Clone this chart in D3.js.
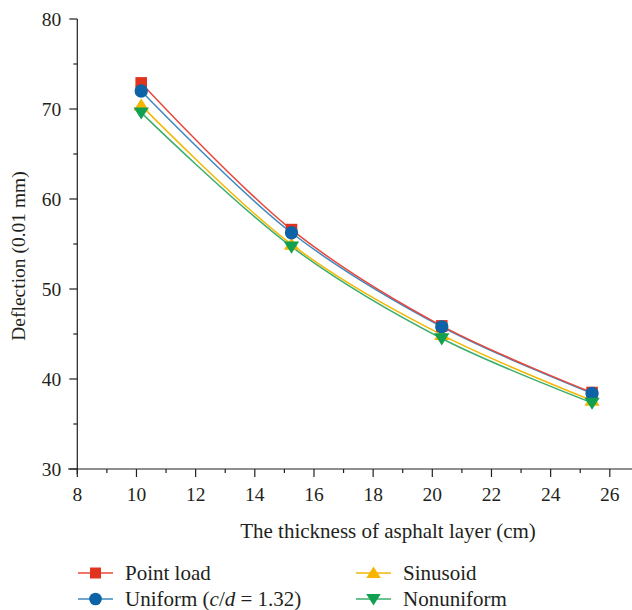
<!DOCTYPE html>
<html>
<head>
<meta charset="utf-8">
<script src="https://cdn.jsdelivr.net/npm/d3@7"></script>
<style>
  html, body { margin: 0; padding: 0; background: #fff; }
  svg { display: block; font-family: "Liberation Serif", "DejaVu Serif", serif; }
</style>
</head>
<body>
<svg id="chart" width="632" height="610"></svg>
<script>
const thickness = [10.16, 15.24, 20.32, 25.4];
const pointLoad  = [72.9, 56.6, 45.9, 38.5];
const uniform    = [72.0, 56.25, 45.8, 38.4];
const sinusoid   = [70.4, 54.95, 44.9, 37.6];
const nonuniform = [69.6, 54.7, 44.5, 37.35];
const xTicks = [8, 10, 12, 14, 16, 18, 20, 22, 24, 26];
const yTicks = [30, 40, 50, 60, 70, 80];

const seriesNames = ["Point load", "Uniform", "Sinusoid", "Nonuniform"];
const seriesValues = [pointLoad, uniform, sinusoid, nonuniform];
const lineColors = ["#e8473a", "#3c87bf", "#f2b705", "#3aae6a"];
const markColors = ["#e03420", "#0d63a5", "#f7b500", "#10a050"];
const markTypes = ["square", "circle", "triangleUp", "triangleDown"];

const svg = d3.select("#chart");
const x = d3.scaleLinear().domain([8, 26.75]).range([77.3, 632]);
const y = d3.scaleLinear().domain([30, 80]).range([469, 19]);

// Axes
const xAxis = svg.append("g").attr("transform", "translate(0,469)");
xAxis.append("line").attr("x1", 68).attr("x2", 632).attr("y1", 0).attr("y2", 0)
  .attr("stroke", "#231f20").attr("stroke-width", 1.2);
const xMinor = d3.range(9, 27, 2);
xAxis.selectAll(".xminor").data(xMinor).join("line")
  .attr("x1", d => x(d)).attr("x2", d => x(d)).attr("y1", 0).attr("y2", 4)
  .attr("stroke", "#231f20").attr("stroke-width", 1.2);
xAxis.selectAll(".xmajor").data(xTicks).join("line")
  .attr("x1", d => x(d)).attr("x2", d => x(d)).attr("y1", 0).attr("y2", 8)
  .attr("stroke", "#231f20").attr("stroke-width", 1.2);
xAxis.selectAll(".xlab").data(xTicks).join("text")
  .attr("x", d => x(d)).attr("y", 32).attr("text-anchor", "middle")
  .attr("font-size", 19.5).attr("fill", "#231f20").text(d => d);

const yAxis = svg.append("g").attr("transform", "translate(77.3,0)");
yAxis.append("line").attr("x1", 0).attr("x2", 0).attr("y1", 19).attr("y2", 474)
  .attr("stroke", "#231f20").attr("stroke-width", 1.2);
const yMinor = d3.range(35, 80, 10);
yAxis.selectAll(".yminor").data(yMinor).join("line")
  .attr("x1", -4).attr("x2", 0).attr("y1", d => y(d)).attr("y2", d => y(d))
  .attr("stroke", "#231f20").attr("stroke-width", 1.2);
yAxis.selectAll(".ymajor").data(yTicks).join("line")
  .attr("x1", -8).attr("x2", 0).attr("y1", d => y(d)).attr("y2", d => y(d))
  .attr("stroke", "#231f20").attr("stroke-width", 1.2);
yAxis.selectAll(".ylab").data(yTicks).join("text")
  .attr("x", -16).attr("y", d => y(d)).attr("dy", "0.35em").attr("text-anchor", "end")
  .attr("font-size", 19.5).attr("fill", "#231f20").text(d => d);

// Axis titles
svg.append("text").attr("x", 388).attr("y", 538).attr("text-anchor", "middle")
  .attr("font-size", 21).attr("fill", "#231f20").text("The thickness of asphalt layer (cm)");
svg.append("text").attr("transform", "translate(25,256) rotate(-90)").attr("text-anchor", "middle")
  .attr("font-size", 19.5).attr("fill", "#231f20").text("Deflection (0.01 mm)");

// Markers
function drawMarker(g, type, cx, cy, color, s) {
  if (type === "square") {
    g.append("rect").attr("x", cx - s).attr("y", cy - s).attr("width", 2 * s).attr("height", 2 * s).attr("fill", color);
  } else if (type === "circle") {
    g.append("circle").attr("cx", cx).attr("cy", cy).attr("r", s * 1.15).attr("fill", color);
  } else if (type === "triangleUp") {
    const h = s * 1.2;
    g.append("path").attr("d", `M${cx},${cy - h}L${cx + h * 1.1},${cy + h * 0.75}L${cx - h * 1.1},${cy + h * 0.75}Z`).attr("fill", color);
  } else {
    const h = s * 1.2;
    g.append("path").attr("d", `M${cx},${cy + h}L${cx + h * 1.1},${cy - h * 0.75}L${cx - h * 1.1},${cy - h * 0.75}Z`).attr("fill", color);
  }
}

const line = d3.line().x((d, i) => x(thickness[i])).y(d => y(d)).curve(d3.curveCatmullRom.alpha(0.5));
const plot = svg.append("g");
const order = [3, 2, 1, 0];
order.forEach(k => {
  plot.append("path").datum(seriesValues[k]).attr("d", line)
    .attr("fill", "none").attr("stroke", lineColors[k]).attr("stroke-width", 1.5);
});
[0, 2, 1, 3].forEach(k => {
  seriesValues[k].forEach((v, i) => drawMarker(plot, markTypes[k], x(thickness[i]), y(v), markColors[k], 5.8));
});

// Legend
const legendItems = [
  {k: 0, lx: 78, ly: 573},
  {k: 1, lx: 78, ly: 599},
  {k: 2, lx: 356, ly: 573},
  {k: 3, lx: 356, ly: 599}
];
const lg = svg.append("g");
legendItems.forEach(it => {
  lg.append("line").attr("x1", it.lx).attr("x2", it.lx + 35).attr("y1", it.ly).attr("y2", it.ly)
    .attr("stroke", lineColors[it.k]).attr("stroke-width", 1.5);
  drawMarker(lg, markTypes[it.k], it.lx + 17.5, it.ly, markColors[it.k], 5.5);
  const t = lg.append("text").attr("x", it.lx + 47).attr("y", it.ly).attr("dy", "0.35em")
    .attr("font-size", 21).attr("fill", "#231f20");
  if (it.k === 1) {
    t.append("tspan").text("Uniform (");
    t.append("tspan").attr("font-style", "italic").text("c");
    t.append("tspan").text("/");
    t.append("tspan").attr("font-style", "italic").text("d");
    t.append("tspan").text(" = 1.32)");
  } else {
    t.text(seriesNames[it.k]);
  }
});
</script>
</body>
</html>
